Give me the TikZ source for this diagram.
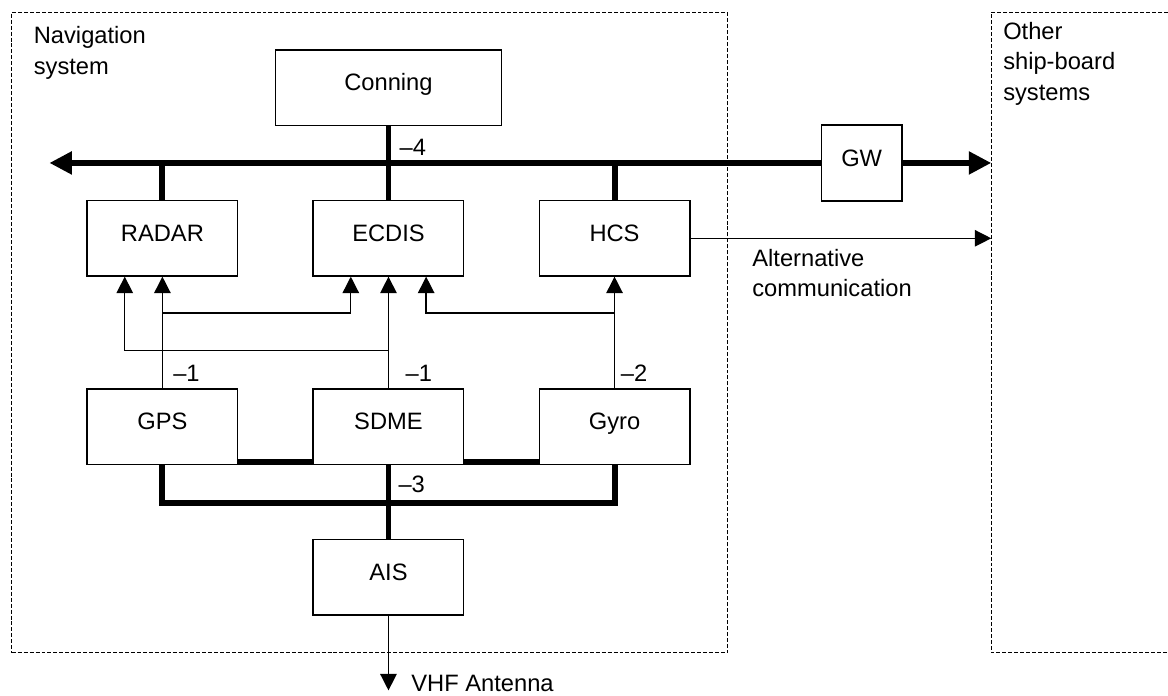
\documentclass[tikz,border=0pt]{standalone}
\usepackage{fontspec}
\setmainfont{Liberation Sans}
\usetikzlibrary{arrows.meta,backgrounds}
\begin{document}
\begin{tikzpicture}[font=\fontsize{17.9}{22.7}\selectfont, line width=1pt,
    >={Triangle[length=12.5pt,width=12.5pt]}]
  \tikzset{ blk/.style={draw,fill=white,inner sep=0pt,minimum width=4cm,minimum height=2cm,
      text height=12.5pt,text depth=7.5pt},
    bus/.style={line width=4.5pt,>={Triangle[length=17pt,width=16.5pt]}},
    dashbox/.style={line width=0.85pt,dash pattern=on 3pt off 1.5pt},
    lbl/.style={anchor=base west,inner sep=0pt,align=left},
  }
  \useasboundingbox (-0.311,-1.123) rectangle (30.69,17.325);

  % the two system boundaries
  \node[dashbox,draw,inner sep=0pt,minimum width=19cm,minimum height=17cm] (nav) at (9.5,8.5) {};
  \node[lbl] (navlbl) at (0.57,15.36) {Navigation\\system};
  \coordinate (oth) at (26,0);
  \draw[dashbox] (30.69,17) -- (26,17) -- (oth) -- (30.69,0);
  \node[lbl] (othlbl) at (26.3,14.67) {Other\\ship-board\\systems};

  % units
  \node[blk,minimum width=6cm] (conning) at (10,15) {Conning};
  \node[blk] (radar) at (4,11) {RADAR};
  \node[blk] (ecdis) at (10,11) {ECDIS};
  \node[blk] (hcs) at (16,11) {HCS};
  \node[blk] (gps) at (4,6) {GPS};
  \node[blk] (sdme) at (10,6) {SDME};
  \node[blk] (gyro) at (16,6) {Gyro};
  \node[blk] (ais) at (10,2) {AIS};
  \node[blk,minimum width=2.14cm,minimum height=2.02cm] (gw) at (22.56,13) {GW};

  % backbone
  \coordinate (busL) at (1,13);
  \coordinate (busR) at (26,13);
  \draw[bus,<-] (busL) -- (gw);
  \draw[bus,->] (gw) -- (busR);
  \draw[bus] (radar) -- (radar |- busL);
  \draw[bus] (conning) -- (ecdis);
  \draw[bus] (hcs) -- (hcs |- busL);
  \node[lbl] (n4) at (10.28,13.21) {--4};

  % sensor links
  \draw[->] (gps) -- (radar);
  \draw[->] ([yshift=2cm]gps.north) -| ([xshift=-1cm]ecdis.south);
  \draw[->] (sdme) -- (ecdis);
  \draw[->] ([yshift=1cm]sdme.north) -| ([xshift=-1cm]radar.south);
  \draw[->] (gyro) -- (hcs);
  \draw[->] ([yshift=2cm]gyro.north) -| ([xshift=1cm]ecdis.south);
  \node[lbl] (n1a) at (4.27,7.19) {--1};
  \node[lbl] (n1b) at (10.44,7.19) {--1};
  \node[lbl] (n2) at (16.15,7.19) {--2};

  \coordinate (alt) at (26,11);
  \draw[->] (hcs) -- (alt);
  \node[lbl] (altlbl) at (19.64,9.45) {Alternative\\communication};

  % sensor bus
  \begin{scope}[on background layer]
    \draw[bus] ([yshift=0.08cm]gps.south) -- ([yshift=0.08cm]gyro.south);
  \end{scope}
  \draw[bus] (gps.south) -- ++(0,-1) -| (gyro.south);
  \draw[bus] (sdme) -- (ais);
  \node[lbl] (n3) at (10.25,4.25) {--3};

  \coordinate (ant) at (10,-1);
  \draw[->] (ais) -- (ant);
  \node[lbl] (vhf) at (10.59,-1.03) {VHF Antenna};
\end{tikzpicture}
\end{document}
